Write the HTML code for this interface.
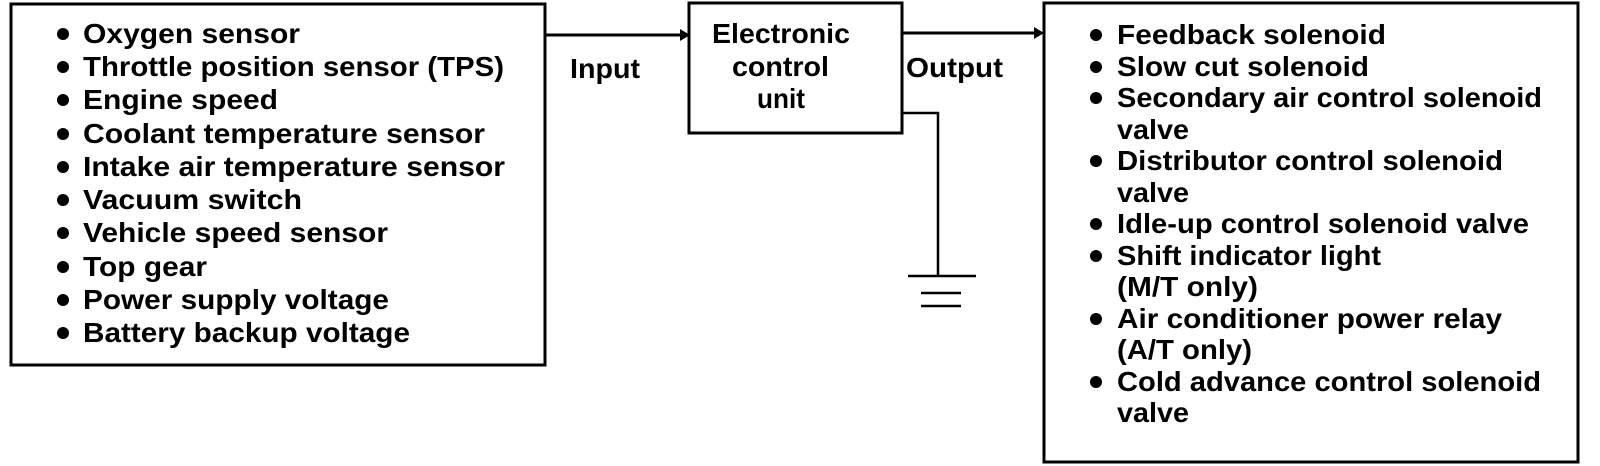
<!DOCTYPE html>
<html><head><meta charset="utf-8"><style>html,body{margin:0;padding:0;background:#fff}svg{display:block}</style></head><body>
<svg width="1600" height="466" viewBox="0 0 1600 466" xmlns="http://www.w3.org/2000/svg" font-family="Liberation Sans, sans-serif" font-weight="bold" font-size="28" fill="#000">
<g fill="none" stroke="#000" stroke-width="3">
<rect x="11" y="4" width="534" height="361"/>
<rect x="689" y="3" width="213" height="130"/>
<rect x="1044" y="3" width="534" height="459"/>
<path d="M545 35H682M902 33H1036"/>
<path d="M902 113H938V276M908 276H976M921 293H961M921 306H961" stroke-width="2.5"/>
</g>
<path d="M680 29L690 35L680 41Z M1034 27L1044 33L1034 39Z"/>
<g lengthAdjust="spacingAndGlyphs">
<text x="83" y="43" textLength="217" lengthAdjust="spacingAndGlyphs">Oxygen sensor</text>
<text x="83" y="76" textLength="421" lengthAdjust="spacingAndGlyphs">Throttle position sensor (TPS)</text>
<text x="83" y="109" textLength="195" lengthAdjust="spacingAndGlyphs">Engine speed</text>
<text x="83" y="143" textLength="402" lengthAdjust="spacingAndGlyphs">Coolant temperature sensor</text>
<text x="83" y="176" textLength="422" lengthAdjust="spacingAndGlyphs">Intake air temperature sensor</text>
<text x="83" y="209" textLength="219" lengthAdjust="spacingAndGlyphs">Vacuum switch</text>
<text x="83" y="242" textLength="305" lengthAdjust="spacingAndGlyphs">Vehicle speed sensor</text>
<text x="83" y="276" textLength="124" lengthAdjust="spacingAndGlyphs">Top gear</text>
<text x="83" y="309" textLength="306" lengthAdjust="spacingAndGlyphs">Power supply voltage</text>
<text x="83" y="342" textLength="327" lengthAdjust="spacingAndGlyphs">Battery backup voltage</text>
<text x="570" y="78" textLength="70" lengthAdjust="spacingAndGlyphs">Input</text>
<text x="906" y="77" textLength="97" lengthAdjust="spacingAndGlyphs">Output</text>
<text x="712" y="43" textLength="138" lengthAdjust="spacingAndGlyphs">Electronic</text>
<text x="732" y="76" textLength="97" lengthAdjust="spacingAndGlyphs">control</text>
<text x="757" y="108" textLength="48" lengthAdjust="spacingAndGlyphs">unit</text>
<text x="1117" y="44" textLength="269" lengthAdjust="spacingAndGlyphs">Feedback solenoid</text>
<text x="1117" y="76" textLength="252" lengthAdjust="spacingAndGlyphs">Slow cut solenoid</text>
<text x="1117" y="107" textLength="425" lengthAdjust="spacingAndGlyphs">Secondary air control solenoid</text>
<text x="1117" y="139" textLength="72" lengthAdjust="spacingAndGlyphs">valve</text>
<text x="1117" y="170" textLength="386" lengthAdjust="spacingAndGlyphs">Distributor control solenoid</text>
<text x="1117" y="202" textLength="72" lengthAdjust="spacingAndGlyphs">valve</text>
<text x="1117" y="233" textLength="412" lengthAdjust="spacingAndGlyphs">Idle-up control solenoid valve</text>
<text x="1117" y="265" textLength="264" lengthAdjust="spacingAndGlyphs">Shift indicator light</text>
<text x="1117" y="296" textLength="141" lengthAdjust="spacingAndGlyphs">(M/T only)</text>
<text x="1117" y="328" textLength="385" lengthAdjust="spacingAndGlyphs">Air conditioner power relay</text>
<text x="1117" y="359" textLength="135" lengthAdjust="spacingAndGlyphs">(A/T only)</text>
<text x="1117" y="391" textLength="424" lengthAdjust="spacingAndGlyphs">Cold advance control solenoid</text>
<text x="1117" y="422" textLength="72" lengthAdjust="spacingAndGlyphs">valve</text>
</g>
<g>
<circle cx="63" cy="34" r="6"/><circle cx="63" cy="67" r="6"/><circle cx="63" cy="100" r="6"/><circle cx="63" cy="134" r="6"/><circle cx="63" cy="167" r="6"/><circle cx="63" cy="200" r="6"/><circle cx="63" cy="233" r="6"/><circle cx="63" cy="267" r="6"/><circle cx="63" cy="300" r="6"/><circle cx="63" cy="333" r="6"/>
<circle cx="1096" cy="35" r="6"/><circle cx="1096" cy="67" r="6"/><circle cx="1096" cy="98" r="6"/><circle cx="1096" cy="161" r="6"/><circle cx="1096" cy="224" r="6"/><circle cx="1096" cy="256" r="6"/><circle cx="1096" cy="319" r="6"/><circle cx="1096" cy="382" r="6"/>
</g>
</svg>
</body></html>
